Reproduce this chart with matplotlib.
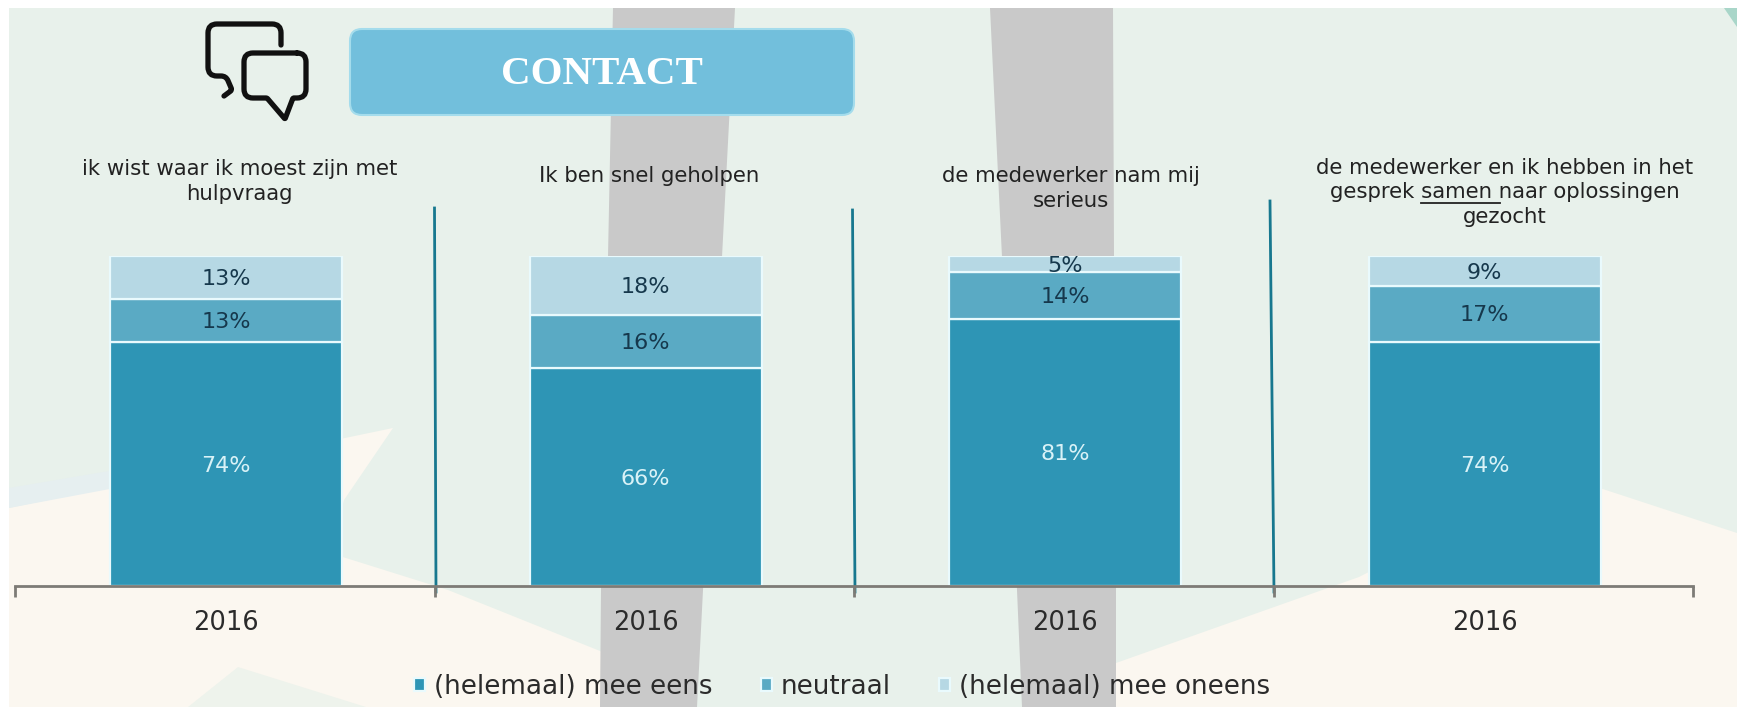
import matplotlib
matplotlib.use("Agg")
import matplotlib.pyplot as plt
from matplotlib.patches import Polygon, FancyBboxPatch, Rectangle, PathPatch
from matplotlib.path import Path
from matplotlib.ticker import FixedLocator, NullFormatter

W, H = 1737, 707
categories = ["2016", "2016", "2016", "2016"]
questions = [
    "ik wist waar ik moest zijn met\nhulpvraag",
    "Ik ben snel geholpen",
    "de medewerker nam mij\nserieus",
    "de medewerker en ik hebben in het\ngesprek samen naar oplossingen\ngezocht",
]
series_names = ["(helemaal) mee eens", "neutraal", "(helemaal) mee oneens"]
eens = [74, 66, 81, 74]
neutraal = [13, 16, 14, 17]
oneens = [13, 18, 5, 9]
series = [eens, neutraal, oneens]
colors = ["#2e95b5", "#5aaac4", "#b6d8e4"]
label_colors = ["#d9f2f7", "#16384c", "#16384c"]

plt.rcParams["font.family"] = ["DejaVu Sans"]
fig = plt.figure(figsize=(W / 100, H / 100), dpi=100, facecolor="white")

# backdrop in pixel coordinates
bg = fig.add_axes([0, 0, 1, 1], zorder=0)
bg.set_xlim(0, W)
bg.set_ylim(H, 0)
bg.axis("off")
GREEN, CREAM, GREY = "#e8f1eb", "#fbf7f0", "#c9c9c9"
bg.add_patch(Rectangle((9, 8), W - 9, H - 8, fc=GREEN, ec="none"))
bg.add_patch(Polygon([(9, 508), (393, 428), (344, 500), (330, 553), (448, 590), (610, 655),
                      (610, 707), (9, 707)], fc=CREAM, ec="none"))
bg.add_patch(Polygon([(9, 488), (115, 470), (115, 488), (9, 508)], fc="#e6eff0", ec="none"))
bg.add_patch(Polygon([(1100, 707), (1116, 663), (1359, 577), (1560, 475), (1737, 533),
                      (1737, 707)], fc=CREAM, ec="none"))
bg.add_patch(Polygon([(238, 667), (366, 707), (188, 707)], fc="#eef3ec", ec="none"))
bg.add_patch(Polygon([(1724, 8), (1737, 8), (1737, 27)], fc="#a9d6c9", ec="none"))
bg.add_patch(Polygon([(613, 8), (735, 8), (722, 257), (703, 590), (697, 707), (600, 707),
                      (601, 590), (608, 257)], fc=GREY, ec="none"))
bg.add_patch(Polygon([(990, 8), (1113, 8), (1114, 257), (1116, 590), (1116, 707), (1022, 707),
                      (1017, 590), (1002, 257)], fc=GREY, ec="none"))

# header
bg.add_patch(FancyBboxPatch((350, 29), 504, 86, boxstyle="round,pad=0,rounding_size=12",
                            mutation_aspect=1, fc="#72bfdc", ec="#a4dcec", lw=1.5))
bg.text(601.5, 75, "CONTACT", family="Liberation Serif", weight="bold", fontsize=29.5,
        color="white", ha="center", va="center")


# speech-bubble icon
def rounded(points, closed=False):
    """Open or closed stroke whose (x, y, r) corners are rounded with radius r."""
    verts, codes = [], []
    n = len(points)
    for i, (x, y, r) in enumerate(points):
        px, py, _ = points[i - 1] if (i > 0 or closed) else points[i]
        nx, ny, _ = points[(i + 1) % n] if (i < n - 1 or closed) else points[i]
        if r == 0:
            verts.append((x, y))
            codes.append(Path.MOVETO if not verts[:-1] else Path.LINETO)
            continue
        d0 = max(((x - px) ** 2 + (y - py) ** 2) ** 0.5, 1e-6)
        d1 = max(((x - nx) ** 2 + (y - ny) ** 2) ** 0.5, 1e-6)
        a = (x + (px - x) * r / d0, y + (py - y) * r / d0)
        b = (x + (nx - x) * r / d1, y + (ny - y) * r / d1)
        verts += [a, (x, y), b]
        codes += [Path.MOVETO if not verts[:-3] else Path.LINETO, Path.CURVE3, Path.CURVE3]
    if closed:
        verts.append(verts[0])
        codes.append(Path.LINETO)
    return Path(verts, codes)


ICON = dict(fc="none", ec="#111111", lw=3.8, capstyle="round", joinstyle="round")
bg.add_patch(PathPatch(rounded([(281, 45, 0), (281, 24, 9), (208, 24, 9), (208, 76, 9),
                                (226, 76, 5), (232, 90, 2), (224, 96, 0)]), **ICON))
bg.add_patch(PathPatch(rounded([(306, 53, 9), (306, 98, 9), (293, 98, 1), (285, 119, 1),
                                (267, 98, 1), (244, 98, 9), (244, 53, 9)], closed=True), **ICON))

# separators
for x0, x1, y0 in [(434.5, 436, 208), (852.5, 855, 210), (1270, 1274, 201)]:
    bg.plot([x0, x1], [y0, 592], color="#17788f", lw=2.0, zorder=1)

# chart
ax = fig.add_axes([15 / W, 1 - 586 / H, (1693 - 15) / W, 330 / H], zorder=2)
ax.patch.set_alpha(0)
xs = [i + 0.003 for i in range(len(categories))]
bottom = [0] * len(xs)
for vals, col, lcol, name in zip(series, colors, label_colors, series_names):
    ax.bar(xs, vals, width=0.553, bottom=bottom, color=col, edgecolor="#e9fafd",
           linewidth=1.6, label=name, zorder=2)
    for x, b, v in zip(xs, bottom, vals):
        ax.annotate(f"{v}%", (x, b + v / 2), xytext=(0, -1.2), textcoords="offset points",
                    ha="center", va="center", color=lcol, fontsize=16, zorder=4)
    bottom = [b + v for b, v in zip(bottom, vals)]
ax.set_xlim(-0.5, 3.5)
ax.set_ylim(0, 100)
ax.set_yticks([])
for s in ("left", "right", "top"):
    ax.spines[s].set_visible(False)
ax.spines["bottom"].set_color("#7d7b76")
ax.spines["bottom"].set_linewidth(2)
ax.spines["bottom"].set_zorder(3)
ax.set_xticks(xs)
ax.set_xticklabels(categories, fontsize=18.5, color="#2b2b2b")
ax.tick_params(axis="x", which="major", length=0, pad=17.5)
ax.xaxis.set_minor_locator(FixedLocator([-0.5, 0.5, 1.5, 2.5, 3.5]))
ax.xaxis.set_minor_formatter(NullFormatter())
ax.tick_params(axis="x", which="minor", length=8, width=2, color="#7d7b76")

# question captions
QUESTION_POS = [(239.5, 181.5), (649, 176), (1070.6, 188.5), (1505, 192.5)]
for (x, y), q in zip(QUESTION_POS, questions):
    bg.text(x, y, q, ha="center", va="center", fontsize=15.3, color="#222222", linespacing=1.26)
bg.plot([1421, 1500], [203, 203], color="#222222", lw=1.3)

# legend
leg = ax.legend(loc="center", bbox_to_anchor=((842 - 15) / (1693 - 15), (586 - 687) / 330),
                ncol=3, frameon=False, fontsize=18.8, handlelength=0.42, handleheight=0.42,
                handletextpad=0.35, columnspacing=1.85, labelcolor="#2b2b2b", borderpad=0)

fig.savefig("out.png", dpi=100, facecolor="white")
